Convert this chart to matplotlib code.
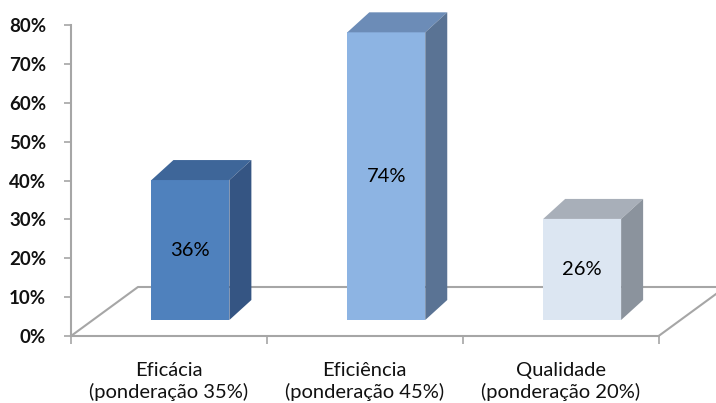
import numpy as np
import matplotlib.pyplot as plt
from matplotlib.patches import Polygon

categories = ['Eficácia\n(ponderação 35%)',
              'Eficiência\n(ponderação 45%)',
              'Qualidade\n(ponderação 20%)']
values = [36, 74, 26]
yticks = [0, 10, 20, 30, 40, 50, 60, 70, 80]

front_colors = ['#4F81BD', '#8DB4E3', '#DCE6F2']
top_colors = ['#3E6699', '#6C8CB7', '#A8AFB9']
side_colors = ['#355583', '#5A7394', '#8B939D']

plt.rcParams['font.family'] = ['Lato', 'DejaVu Sans']

W, H = 716, 403
fig = plt.figure(figsize=(W / 100, H / 100), dpi=100)
ax = fig.add_axes([71 / W, (H - 336) / H, (W - 71) / W, 311 / H])
ax.set_xlim(-0.5, 2.793)
ax.set_ylim(0, 80)

# 3d-ish geometry (in data units)
px_x = 196.0          # pixels per category
px_y = 311 / 80       # pixels per percent
floor_dx, floor_dy = 67 / px_x, 49 / px_y
bar_off = 21.5 / px_x
bar_w = 78 / px_x
base = 16 / px_y
dx, dy = 22 / px_x, 20 / px_y

gray = '#A6A6A6'
# floor
ax.plot([-0.5, -0.5 + floor_dx, 3.5], [0, floor_dy, floor_dy], color=gray, lw=1.5, clip_on=True)
ax.plot([2.5, 2.5 + floor_dx], [0, floor_dy], color=gray, lw=1.5)

for i, v in enumerate(values):
    x0 = i + bar_off - bar_w / 2
    x1 = x0 + bar_w
    y0, y1 = base, base + v
    front = Polygon([(x0, y0), (x1, y0), (x1, y1), (x0, y1)], closed=True,
                    facecolor=front_colors[i], edgecolor='none', clip_on=False, zorder=3)
    top = Polygon([(x0, y1), (x1, y1), (x1 + dx, y1 + dy), (x0 + dx, y1 + dy)], closed=True,
                  facecolor=top_colors[i], edgecolor='none', clip_on=False, zorder=3)
    side = Polygon([(x1, y0), (x1 + dx, y0 + dy), (x1 + dx, y1 + dy), (x1, y1)], closed=True,
                   facecolor=side_colors[i], edgecolor='none', clip_on=False, zorder=3)
    for p in (front, top, side):
        ax.add_patch(p)
    ax.text(i + bar_off, base + v / 2, f'{v}%', ha='center', va='center',
            fontsize=14.5, color='#000000', zorder=4)

for s in ('top', 'right'):
    ax.spines[s].set_visible(False)
ax.spines['left'].set_color(gray)
ax.spines['left'].set_linewidth(1.5)
ax.spines['bottom'].set_color(gray)
ax.spines['bottom'].set_linewidth(1.5)
ax.spines['bottom'].set_bounds(-0.5, 2.5)

ax.set_yticks(yticks)
ax.set_yticklabels([f'{t}%' for t in yticks], fontsize=13.5, fontweight='bold', color='#111111')
ax.tick_params(axis='y', length=5, width=1.2, color=gray, pad=13)

ax.set_xticks([0, 1, 2])
ax.set_xticklabels(categories, fontsize=14.5, color='#111111', linespacing=1.25)
ax.set_xticks([-0.5, 0.5, 1.5, 2.5], minor=True)
ax.tick_params(axis='x', which='major', length=0, pad=19)
ax.tick_params(axis='x', which='minor', length=6, width=1.2, color=gray)

fig.savefig('out.png', dpi=100)
